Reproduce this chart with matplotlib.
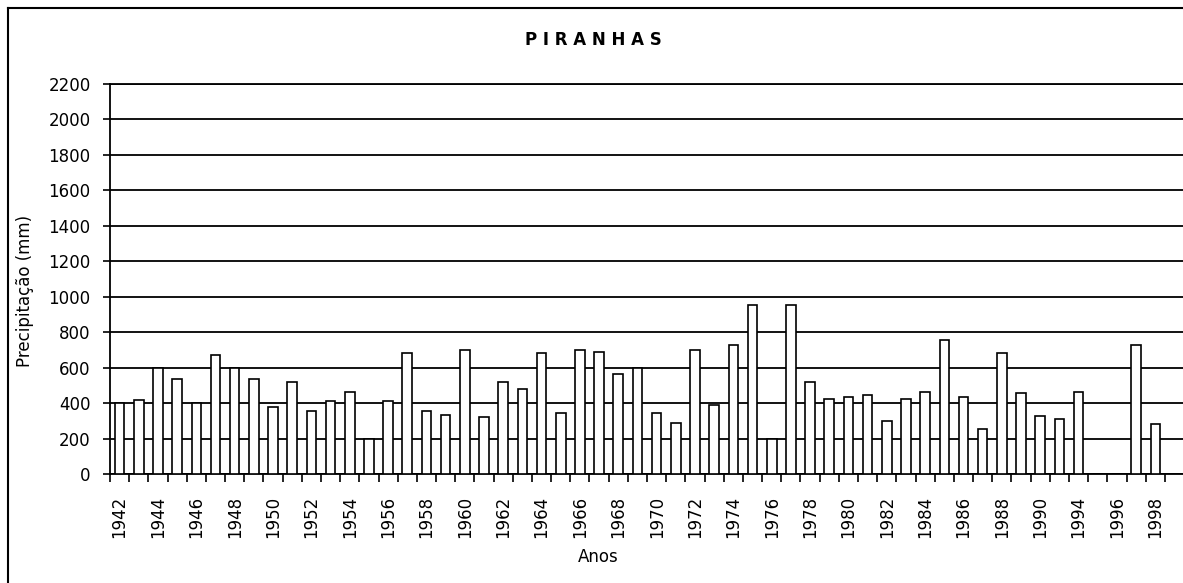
import matplotlib
matplotlib.use('Agg')
import matplotlib.pyplot as plt
from matplotlib.lines import Line2D
import numpy as np

# years shown on the chart (1992 and 1993 are not in the series)
years = list(range(1942, 1992)) + [1994, 1995, 1996, 1997, 1998]
precip = [400, 420, 600, 535, 400, 670, 600, 535, 380, 520,
          355, 410, 465, 200, 410, 680, 355, 335, 700, 320,
          520, 480, 680, 345, 700, 690, 565, 600, 345, 290,
          700, 390, 730, 955, 200, 955, 520, 425, 435, 445,
          300, 425, 465, 755, 435, 255, 680, 455, 325, 310,
          465, 0, 0, 730, 280]
yticks = list(range(0, 2201, 200))

W, H = 1183, 583
fig = plt.figure(figsize=(W/100, H/100), dpi=100, facecolor='white')

# plot area in pixels: left 110, top 84, bottom 474, 56 slots of ~19.2 px
n_slots = len(years) + 1
slot = 19.18
left, right = 110, 110 + n_slots*slot
top, bottom = 84, 474
ax = fig.add_axes([left/W, 1-bottom/H, (right-left)/W, (bottom-top)/H])

x = np.arange(len(years))
ax.bar(x, precip, width=0.5, color='white', edgecolor='black', linewidth=1.2, zorder=3)

ax.set_xlim(-0.5, n_slots-0.5)
ax.set_ylim(0, 2200)
ax.set_yticks(yticks)
ax.set_yticklabels([str(v) for v in yticks], fontsize=12)
ax.yaxis.grid(True, color='black', linewidth=1.3, zorder=0)
ax.set_axisbelow(True)

# tick marks at category boundaries, labels every second year
ax.set_xticks(np.arange(-0.5, n_slots, 1.0))
ax.set_xticklabels([])
ax.set_xticks(x[::2], minor=True)
ax.set_xticklabels([str(y) for y in years[::2]], minor=True, rotation=90, fontsize=12)
ax.tick_params(axis='x', which='major', direction='out', length=6, width=1.2)
ax.tick_params(axis='x', which='minor', length=0, pad=16)
ax.tick_params(axis='y', direction='out', length=5, width=1.2, pad=9)

for s in ['right']:
    ax.spines[s].set_visible(False)
for s in ['left', 'bottom', 'top']:
    ax.spines[s].set_linewidth(1.3)

fig.text(593/W, 1-40/H, 'P I R A N H A S', fontsize=12, fontweight='bold',
         ha='center', va='center')
fig.text(25/W, 1-291/H, 'Precipitação (mm)', fontsize=12, rotation=90,
         ha='center', va='center')
fig.text(598/W, 1-557/H, 'Anos', fontsize=12, ha='center', va='center')

# chart border (top and left edges visible in the crop)
fig.add_artist(Line2D([8/W, 1], [1-8/H, 1-8/H], color='black', linewidth=1.5,
                      transform=fig.transFigure))
fig.add_artist(Line2D([8/W, 8/W], [0, 1-8/H], color='black', linewidth=1.5,
                      transform=fig.transFigure))

fig.savefig('out.png', dpi=100, facecolor='white')
